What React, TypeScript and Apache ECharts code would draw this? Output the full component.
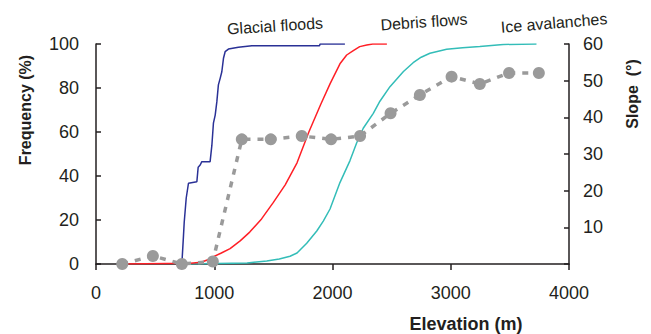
import React, { useEffect, useRef } from "react";
import * as echarts from "echarts";

// Cumulative frequency (%) vs elevation (m)
const glacialElev = [726, 740, 746, 763, 782, 853, 864, 881, 895, 965, 980, 993, 1008, 1022, 1035, 1050, 1064, 1078, 1092, 1120, 1204, 1318, 1890, 1895, 2105];
const glacialFreq = [0, 13, 19, 30, 36.7, 37.4, 44, 45, 46.5, 46.5, 54, 64, 67.7, 73.8, 81.4, 84.4, 87.4, 93.5, 96.5, 97.7, 98.5, 99.2, 99.2, 100, 100];

const debrisElev = [222, 800, 890, 940, 993, 1060, 1134, 1219, 1300, 1400, 1500, 1600, 1700, 1800, 1900, 1980, 2063, 2120, 2176, 2230, 2290, 2340, 2460];
const debrisFreq = [0, 0.3, 0.8, 1.8, 3.3, 5, 7, 10.5, 14.5, 20.5, 28, 36, 46, 60, 72.5, 82, 91, 95, 97, 98.8, 99.5, 100, 100];

const iceElev = [771, 1278, 1444, 1550, 1641, 1700, 1782, 1867, 1922, 1979, 2063, 2148, 2204, 2260, 2345, 2401, 2486, 2542, 2600, 2682, 2750, 2824, 2965, 3100, 3246, 3443, 3725];
const iceFreq = [0, 0.5, 1.4, 2.3, 3.5, 5, 9.4, 15, 19.5, 25, 37, 47, 55, 61.7, 68.5, 74, 80.6, 84, 87.5, 91.5, 94, 95.8, 97.6, 98.3, 98.9, 99.8, 100];

// Mean slope (degrees) vs elevation (m)
const slopeElev = [222, 481, 726, 988, 1233, 1478, 1740, 1988, 2233, 2491, 2739, 3007, 3246, 3493, 3745];
const slopeVal = [0, 2.2, 0, 0.7, 34, 34, 34.9, 34, 34.9, 41.1, 46.1, 51.1, 49.1, 52.1, 52.1];

const xTicks = { min: 0, max: 4000, interval: 1000 };
const freqTicks = { min: 0, max: 100, interval: 20 };
const slopeTicks = { min: 0, max: 60, interval: 10 };

const labels = ["Glacial floods", "Debris flows", "Ice avalanches"];

const FONT = "'Liberation Sans', Arial, Helvetica, sans-serif";
const TXT = "#231f20";

const pairs = (xs: number[], ys: number[]) => xs.map((x, i) => [x, ys[i]]);

export default function App() {
  const ref = useRef<HTMLDivElement>(null);
  useEffect(() => {
    if (!ref.current) return;
    const chart = echarts.init(ref.current, undefined, { renderer: "svg" });
    const axisLine = { show: true, lineStyle: { color: TXT, width: 1.5 } };
    chart.setOption({
      animation: false,
      backgroundColor: "#ffffff",
      textStyle: { fontFamily: FONT },
      grid: { left: 96, right: 82, top: 44, bottom: 70, containLabel: false },
      xAxis: {
        type: "value",
        ...xTicks,
        axisLine: { ...axisLine, onZero: false },
        axisTick: { show: true, inside: false, length: 6, lineStyle: { color: TXT, width: 1.5 } },
        axisLabel: { fontSize: 18, color: TXT, margin: 20, fontFamily: FONT, formatter: (v: number) => String(v) },
        splitLine: { show: false },
      },
      yAxis: [
        {
          type: "value",
          ...freqTicks,
          position: "left",
          axisLine,
          axisTick: { show: true, inside: true, length: 5, lineStyle: { color: TXT, width: 1.5 } },
          axisLabel: { fontSize: 18, color: TXT, margin: 17, fontFamily: FONT },
          splitLine: { show: false },
        },
        {
          type: "value",
          ...slopeTicks,
          position: "right",
          axisLine,
          axisTick: { show: true, inside: true, length: 5, lineStyle: { color: TXT, width: 1.5 } },
          axisLabel: {
            fontSize: 18,
            color: TXT,
            margin: 14,
            fontFamily: FONT,
            formatter: (v: number) => (v === 0 ? "" : String(v)),
          },
          splitLine: { show: false },
        },
      ],
      series: [
        {
          name: labels[2],
          type: "line",
          data: pairs(iceElev, iceFreq),
          showSymbol: false,
          lineStyle: { color: "#33bdb8", width: 1.5 },
          z: 2,
        },
        {
          name: labels[1],
          type: "line",
          data: pairs(debrisElev, debrisFreq),
          showSymbol: false,
          lineStyle: { color: "#ff1f26", width: 1.5 },
          z: 3,
        },
        {
          name: labels[0],
          type: "line",
          data: pairs(glacialElev, glacialFreq),
          showSymbol: false,
          lineStyle: { color: "#2a3196", width: 1.5 },
          z: 4,
        },
        {
          name: "Slope",
          type: "line",
          yAxisIndex: 1,
          data: pairs(slopeElev, slopeVal),
          symbol: "circle",
          symbolSize: 12,
          itemStyle: { color: "#9a9a9a" },
          lineStyle: { color: "#9a9a9a", width: 3.5, type: [6, 7] },
          z: 5,
        },
      ],
      graphic: [
        {
          type: "text",
          x: 25,
          y: 110,
          rotation: Math.PI / 2,
          style: { text: "Frequency (%)", font: `bold 16px ${FONT}`, fill: TXT, align: "center", verticalAlign: "middle" },
        },
        {
          type: "text",
          x: 632,
          y: 94,
          rotation: Math.PI / 2,
          style: { text: "Slope  (°)", font: `bold 16px ${FONT}`, fill: TXT, align: "center", verticalAlign: "middle" },
        },
        {
          type: "text",
          x: 466,
          y: 324,
          style: { text: "Elevation (m)", font: `bold 18px ${FONT}`, fill: TXT, align: "center", verticalAlign: "middle" },
        },
        {
          type: "text",
          x: 275,
          y: 26,
          rotation: 0.065,
          style: { text: labels[0], font: `16px ${FONT}`, fill: TXT, align: "center", verticalAlign: "middle" },
        },
        {
          type: "text",
          x: 424,
          y: 22,
          rotation: 0.07,
          style: { text: labels[1], font: `16px ${FONT}`, fill: TXT, align: "center", verticalAlign: "middle" },
        },
        {
          type: "text",
          x: 554,
          y: 23,
          rotation: 0.08,
          style: { text: labels[2], font: `16px ${FONT}`, fill: TXT, align: "center", verticalAlign: "middle" },
        },
      ],
    });
    return () => chart.dispose();
  }, []);
  return <div ref={ref} style={{ width: 651, height: 334, position: "absolute", left: 0, top: 0 }} />;
}
